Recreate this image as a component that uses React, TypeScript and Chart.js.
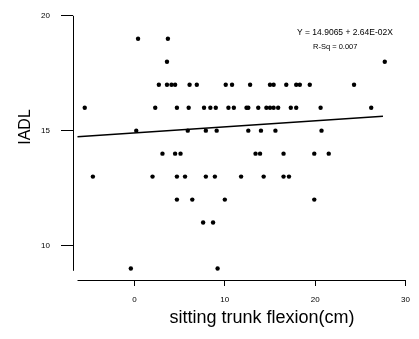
import React, { useEffect, useRef } from 'react';
import { Chart, registerables } from 'chart.js';

Chart.register(...registerables);

// sitting trunk flexion (cm) for each subject
const trunkFlexion = [
  0.4, 3.7,
  3.6, 27.7,
  2.7, 3.6, 4.1, 4.5, 6.1, 6.9, 10.1, 10.8, 12.8, 15.0, 15.4, 16.8, 17.9, 18.3, 19.4, 24.3,
  -5.5, 2.3, 4.7, 6.0, 7.7, 8.4, 9.0, 10.4, 11.0, 12.4, 12.6, 13.7, 14.6, 15.0, 15.4, 15.9, 17.3, 17.9, 20.6, 26.2,
  0.2, 5.9, 7.9, 9.1, 12.6, 14.0, 15.6, 20.7,
  3.1, 4.5, 5.1, 13.4, 13.9, 16.5, 19.9, 21.5,
  -4.6, 2.0, 4.7, 5.6, 7.9, 8.9, 11.8, 14.3, 16.5, 17.1,
  4.7, 6.4, 10.0, 19.9,
  7.6, 8.7,
  -0.4, 9.2,
];

// IADL score for each subject
const iadl = [
  19, 19,
  18, 18,
  17, 17, 17, 17, 17, 17, 17, 17, 17, 17, 17, 17, 17, 17, 17, 17,
  16, 16, 16, 16, 16, 16, 16, 16, 16, 16, 16, 16, 16, 16, 16, 16, 16, 16, 16, 16,
  15, 15, 15, 15, 15, 15, 15, 15,
  14, 14, 14, 14, 14, 14, 14, 14,
  13, 13, 13, 13, 13, 13, 13, 13, 13, 13,
  12, 12, 12, 12,
  11, 11,
  9, 9,
];

const xTickValues = [0, 10, 20, 30];
const yTickValues = [10, 15, 20];

const INTERCEPT = 14.9065;
const SLOPE = 0.0264;
const fitRange = [-6.3, 27.5];

const equationText = 'Y = 14.9065 + 2.64E-02X';
const rsqText = 'R-Sq = 0.007';
const xTitle = 'sitting trunk flexion(cm)';
const yTitle = 'IADL';

const extras = {
  id: 'extras',
  afterDraw(chart: any) {
    const { ctx, chartArea, scales } = chart;
    const x = scales.x;
    const y = scales.y;
    ctx.save();
    ctx.strokeStyle = '#000';
    ctx.lineWidth = 1;
    // y axis line
    const ax = Math.round(chartArea.left) + 0.5;
    ctx.beginPath();
    ctx.moveTo(ax, y.getPixelForValue(20));
    ctx.lineTo(ax, y.getPixelForValue(8.9));
    ctx.stroke();
    // x axis line
    const ay = Math.round(chartArea.bottom) + 0.5;
    ctx.beginPath();
    ctx.moveTo(x.getPixelForValue(-6.3), ay);
    ctx.lineTo(x.getPixelForValue(30), ay);
    ctx.stroke();

    ctx.fillStyle = '#000';
    ctx.textBaseline = 'middle';
    // equation annotation
    ctx.textAlign = 'left';
    ctx.font = '8.5px Arial';
    ctx.fillText(equationText, 297, 33);
    ctx.font = '7.5px Arial';
    ctx.fillText(rsqText, 313, 47);

    // axis titles
    ctx.textAlign = 'center';
    ctx.font = '18px Arial';
    ctx.fillText(xTitle, 262, 318);
    ctx.save();
    ctx.translate(26, 127);
    ctx.rotate(-Math.PI / 2);
    ctx.font = '16px Arial';
    ctx.fillText(yTitle, 0, 0);
    ctx.restore();
    ctx.restore();
  },
};

export default function App() {
  const ref = useRef<HTMLCanvasElement | null>(null);

  useEffect(() => {
    if (!ref.current) return;
    const points = trunkFlexion.map((v, i) => ({ x: v, y: iadl[i] }));
    const fit = fitRange.map((v) => ({ x: v, y: INTERCEPT + SLOPE * v }));
    const chart = new Chart(ref.current, {
      type: 'scatter',
      data: {
        datasets: [
          {
            data: points,
            pointRadius: 2.2,
            pointBackgroundColor: '#000',
            pointBorderWidth: 0,
          },
          {
            data: fit,
            showLine: true,
            pointRadius: 0,
            borderColor: '#000',
            borderWidth: 1.5,
          },
        ],
      },
      options: {
        responsive: false,
        animation: false,
        layout: { padding: { top: 11, right: 10, left: 0, bottom: 0 } },
        plugins: { legend: { display: false }, tooltip: { enabled: false } },
        scales: {
          x: {
            type: 'linear',
            min: -6.8,
            max: 30,
            afterBuildTicks: (s: any) => {
              s.ticks = xTickValues.map((v) => ({ value: v }));
            },
            afterFit: (s: any) => {
              s.height = 59;
            },
            grid: { display: true, drawOnChartArea: false, drawTicks: true, tickLength: 6, color: '#000', lineWidth: 1 },
            border: { display: false },
            ticks: { color: '#000', font: { family: 'Arial', size: 8 }, padding: 9, maxRotation: 0 },
          },
          y: {
            type: 'linear',
            min: 8.5,
            max: 20,
            afterBuildTicks: (s: any) => {
              s.ticks = yTickValues.map((v) => ({ value: v }));
            },
            afterFit: (s: any) => {
              s.width = 73;
            },
            grid: { display: true, drawOnChartArea: false, drawTicks: true, tickLength: 12, color: '#000', lineWidth: 1 },
            border: { display: false },
            ticks: { color: '#000', font: { family: 'Arial', size: 8 }, padding: 11 },
          },
        },
      },
      plugins: [extras],
    });
    return () => chart.destroy();
  }, []);

  return (
    <div style={{ position: 'absolute', left: 0, top: 0, width: 419, height: 339, background: '#fff' }}>
      <canvas ref={ref} width={419} height={339} style={{ display: 'block' }} />
    </div>
  );
}
